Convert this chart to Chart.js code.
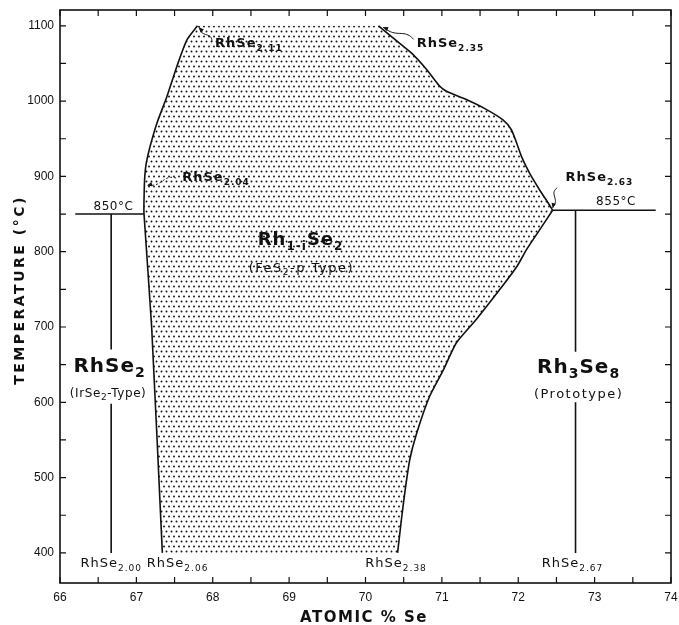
<!DOCTYPE html>
<html lang="en">
<head>
<meta charset="UTF-8">
<title>Rh-Se phase diagram (66-74 at.% Se)</title>
<script src="https://cdn.jsdelivr.net/npm/chart.js"></script>
<style>
  html, body { margin: 0; padding: 0; background: #fff; overflow: hidden; }
  #wrap { width: 679px; height: 625px; }
</style>
</head>
<body>
<div id="wrap"><canvas id="chart"></canvas></div>
<script>
// left boundary of the Rh1-iSe2 field, top to bottom
const leftX = [67.80, 67.66, 67.53, 67.40, 67.27, 67.18, 67.13, 67.11, 67.10, 67.10, 67.20, 67.34];
const leftY = [1100, 1081, 1046, 1006, 971, 940, 918, 900, 869, 850, 700, 400];
// right boundary, lower branch: 400 °C up to the 855 °C point
const lowRightX = [70.42, 70.47, 70.52, 70.58, 70.67, 70.84, 71.02, 71.19, 71.45, 71.76, 71.98, 72.11, 72.28, 72.45];
const lowRightY = [400, 444, 484, 524, 559, 608, 643, 679, 710, 750, 780, 803, 829, 855];
// right boundary, upper branch: 855 °C point up to 1100 °C
const upRightX = [72.45, 72.39, 72.28, 72.15, 72.04, 71.98, 71.91, 71.80, 71.58, 71.32, 71.06, 70.97, 70.80, 70.60, 70.36, 70.17];
const upRightY = [855, 865, 882, 904, 927, 944, 962, 975, 989, 1002, 1013, 1020, 1042, 1064, 1084, 1100];

// peritectic-type horizontals
const iso850X = [66.20, 67.10], iso850Y = [850, 850];
const iso855X = [72.45, 73.80], iso855Y = [855, 855];
// line compounds (broken where the phase names sit)
const rhse2X = 66.67, rhse2UpY = [850, 670], rhse2LowY = [598, 400];
const rh3se8X = 72.75, rh3se8UpY = [855, 667], rh3se8LowY = [600, 400];

const xTickLabels = ['66', '67', '68', '69', '70', '71', '72', '73', '74'];
const yTickLabels = ['400', '500', '600', '700', '800', '900', '1000', '1100'];

const pts = (xs, ys) => xs.map((v, i) => ({ x: v, y: ys[i] }));
const vert = (x, ys) => ys.map(v => ({ x: x, y: v }));

function dotPattern() {
  const c = document.createElement('canvas');
  c.width = 10; c.height = 10;
  const g = c.getContext('2d');
  g.fillStyle = '#111';
  [[1.5, 1.5], [6.5, 1.5], [4, 6.5], [9, 6.5]].forEach(([a, b]) => {
    g.beginPath(); g.arc(a, b, 0.95, 0, Math.PI * 2); g.fill();
  });
  return g.createPattern(c, 'repeat');
}

const polygon = pts(leftX, leftY).concat(pts(lowRightX, lowRightY), pts(upRightX, upRightY).slice(1));

const lineDs = (data, tension) => ({
  data: data, borderColor: '#111', borderWidth: 1.6, pointRadius: 0,
  tension: tension || 0, fill: false
});

const FONT = '"DejaVu Sans", sans-serif';
const styles = {
  small: { font: 'bold 13px ' + FONT, sub: 'bold 9px ' + FONT, drop: 4, sp: 1 },
  plain: { font: '13px ' + FONT, sub: '9px ' + FONT, drop: 4, sp: 1 },
  temp:  { font: '12px ' + FONT, sub: '9px ' + FONT, drop: 4, sp: 0.5 },
  big:   { font: 'bold 20px ' + FONT, sub: 'bold 14px ' + FONT, drop: 5, sp: 1 },
  mid:   { font: 'bold 18px ' + FONT, sub: 'bold 12px ' + FONT, drop: 5, sp: 1 },
  paren: { font: '13px ' + FONT, sub: '9px ' + FONT, drop: 3, sp: 1.5 },
  paren2:{ font: '12px ' + FONT, sub: '9px ' + FONT, drop: 3, sp: 0.6 }
};

// [text, isSub] pieces, anchored in data units
const notes = [
  { x: 68.03, y: 1072, a: 'left', s: 'small', t: [['RhSe', 0], ['2.11', 1]] },
  { x: 70.67, y: 1072, a: 'left', s: 'small', t: [['RhSe', 0], ['2.35', 1]] },
  { x: 67.60, y: 894, a: 'left', s: 'small', t: [['RhSe', 0], ['2.04', 1]] },
  { x: 72.62, y: 894, a: 'left', s: 'small', t: [['RhSe', 0], ['2.63', 1]] },
  { x: 66.70, y: 856, a: 'center', s: 'temp', t: [['850°C', 0]] },
  { x: 73.28, y: 862, a: 'center', s: 'temp', t: [['855°C', 0]] },
  { x: 69.15, y: 809, a: 'center', s: 'mid', t: [['Rh', 0], ['1-i', 1], ['Se', 0], ['2', 1]] },
  { x: 69.16, y: 773, a: 'center', s: 'paren', t: [['(FeS', 0], ['2', 1], ['-p Type)', 0]] },
  { x: 66.65, y: 640, a: 'center', s: 'big', t: [['RhSe', 0], ['2', 1]] },
  { x: 66.63, y: 607, a: 'center', s: 'paren2', t: [['(IrSe', 0], ['2', 1], ['-Type)', 0]] },
  { x: 72.79, y: 639, a: 'center', s: 'big', t: [['Rh', 0], ['3', 1], ['Se', 0], ['8', 1]] },
  { x: 72.79, y: 606, a: 'center', s: 'paren', t: [['(Prototype)', 0]] },
  { x: 66.67, y: 381, a: 'center', s: 'plain', t: [['RhSe', 0], ['2.00', 1]] },
  { x: 67.54, y: 381, a: 'center', s: 'plain', t: [['RhSe', 0], ['2.06', 1]] },
  { x: 70.40, y: 381, a: 'center', s: 'plain', t: [['RhSe', 0], ['2.38', 1]] },
  { x: 72.71, y: 381, a: 'center', s: 'plain', t: [['RhSe', 0], ['2.67', 1]] }
];

// wavy pointer arrows from a label to a boundary point
const pointers = [
  { from: [67.99, 1079], to: [67.82, 1098], dash: false },
  { from: [70.63, 1082], to: [70.23, 1098], dash: false },
  { from: [67.52, 898], to: [67.14, 888], dash: true },
  { from: [72.51, 885], to: [72.45, 858], dash: false }
];

function drawRich(ctx, note, x, y) {
  const st = styles[note.s];
  ctx.letterSpacing = st.sp + 'px';
  let w = 0;
  note.t.forEach(([txt, sub]) => { ctx.font = sub ? st.sub : st.font; w += ctx.measureText(txt).width; });
  let cx = note.a === 'center' ? x - w / 2 : x;
  ctx.textAlign = 'left';
  ctx.textBaseline = 'alphabetic';
  note.t.forEach(([txt, sub]) => {
    ctx.font = sub ? st.sub : st.font;
    ctx.fillText(txt, cx, y + (sub ? st.drop : 0));
    cx += ctx.measureText(txt).width;
  });
}

function drawPointer(ctx, x1, y1, x2, y2, dash) {
  const dx = x2 - x1, dy = y2 - y1, len = Math.hypot(dx, dy);
  const ux = dx / len, uy = dy / len, nx = -uy, ny = ux;
  ctx.setLineDash(dash ? [2, 2] : []);
  ctx.beginPath();
  for (let i = 0; i <= 24; i++) {
    const f = i / 24, off = Math.sin(f * Math.PI * 2) * 2.5 * (1 - f * 0.6);
    const px = x1 + dx * f + nx * off, py = y1 + dy * f + ny * off;
    if (i === 0) ctx.moveTo(px, py); else ctx.lineTo(px, py);
  }
  ctx.stroke();
  ctx.setLineDash([]);
  ctx.beginPath();
  ctx.moveTo(x2, y2);
  ctx.lineTo(x2 - ux * 5 + nx * 2.2, y2 - uy * 5 + ny * 2.2);
  ctx.lineTo(x2 - ux * 5 - nx * 2.2, y2 - uy * 5 - ny * 2.2);
  ctx.closePath();
  ctx.fill();
}

const decor = {
  id: 'decor',
  afterDatasetsDraw(chart) {
    const { ctx, chartArea: a, scales: { x, y } } = chart;
    ctx.save();
    ctx.strokeStyle = '#111';
    ctx.fillStyle = '#111';
    // frame
    ctx.lineWidth = 1.6;
    ctx.strokeRect(a.left, a.top, a.right - a.left, a.bottom - a.top);
    // inward tick marks on all four sides
    ctx.lineWidth = 1.2;
    ctx.beginPath();
    x.ticks.forEach(t => {
      const p = x.getPixelForValue(t.value);
      ctx.moveTo(p, a.bottom); ctx.lineTo(p, a.bottom - 6);
      ctx.moveTo(p, a.top); ctx.lineTo(p, a.top + 6);
    });
    y.ticks.forEach(t => {
      const p = y.getPixelForValue(t.value);
      ctx.moveTo(a.left, p); ctx.lineTo(a.left + 6, p);
      ctx.moveTo(a.right, p); ctx.lineTo(a.right - 6, p);
    });
    ctx.stroke();
    // pointers
    ctx.lineWidth = 1;
    pointers.forEach(p => drawPointer(ctx,
      x.getPixelForValue(p.from[0]), y.getPixelForValue(p.from[1]),
      x.getPixelForValue(p.to[0]), y.getPixelForValue(p.to[1]), p.dash));
    // labels
    notes.forEach(n => drawRich(ctx, n, x.getPixelForValue(n.x), y.getPixelForValue(n.y)));
    // axis titles
    ctx.font = 'bold 15px ' + FONT;
    ctx.letterSpacing = '1.5px';
    ctx.textAlign = 'center';
    ctx.textBaseline = 'alphabetic';
    ctx.fillText('ATOMIC % Se', 364, 622);
    ctx.translate(24, 290);
    ctx.rotate(-Math.PI / 2);
    ctx.font = 'bold 14px ' + FONT;
    ctx.letterSpacing = '2.5px';
    ctx.fillText('TEMPERATURE (°C)', 0, 0);
    ctx.restore();
  }
};

new Chart(document.getElementById('chart'), {
  type: 'line',
  data: {
    datasets: [
      { data: polygon, fill: 'shape', backgroundColor: dotPattern(), borderColor: 'rgba(0,0,0,0)',
        borderWidth: 0, pointRadius: 0, tension: 0 },
      lineDs(pts(leftX, leftY), 0.2),
      lineDs(pts(lowRightX, lowRightY), 0.2),
      lineDs(pts(upRightX, upRightY), 0.2),
      lineDs(pts(iso850X, iso850Y)),
      lineDs(pts(iso855X, iso855Y)),
      lineDs(vert(rhse2X, rhse2UpY)),
      lineDs(vert(rhse2X, rhse2LowY)),
      lineDs(vert(rh3se8X, rh3se8UpY)),
      lineDs(vert(rh3se8X, rh3se8LowY))
    ]
  },
  plugins: [decor],
  options: {
    responsive: true,
    maintainAspectRatio: false,
    animation: false,
    layout: { padding: { top: 10, right: 8, left: 0, bottom: 0 } },
    plugins: { legend: { display: false }, tooltip: { enabled: false } },
    scales: {
      x: {
        type: 'linear', min: 66, max: 74,
        grid: { display: false, drawTicks: false },
        border: { display: false },
        afterFit: s => { s.height = 42; s.paddingLeft = 0; s.paddingRight = 0; },
        ticks: {
          stepSize: 0.5, autoSkip: false, maxRotation: 0, padding: 7,
          color: '#111', font: { family: '"Liberation Sans", sans-serif', size: 12 },
          callback: v => Number.isInteger(v) ? xTickLabels[v - 66] : ''
        }
      },
      y: {
        min: 360, max: 1121,
        grid: { display: false, drawTicks: false },
        border: { display: false },
        afterFit: s => { s.width = 60; s.paddingTop = 0; s.paddingBottom = 0; },
        ticks: {
          stepSize: 50, includeBounds: false, padding: 6,
          color: '#111', font: { family: '"Liberation Sans", sans-serif', size: 12 },
          callback: v => v % 100 === 0 ? yTickLabels[(v - 400) / 100] : ''
        }
      }
    }
  }
});
</script>
</body>
</html>
